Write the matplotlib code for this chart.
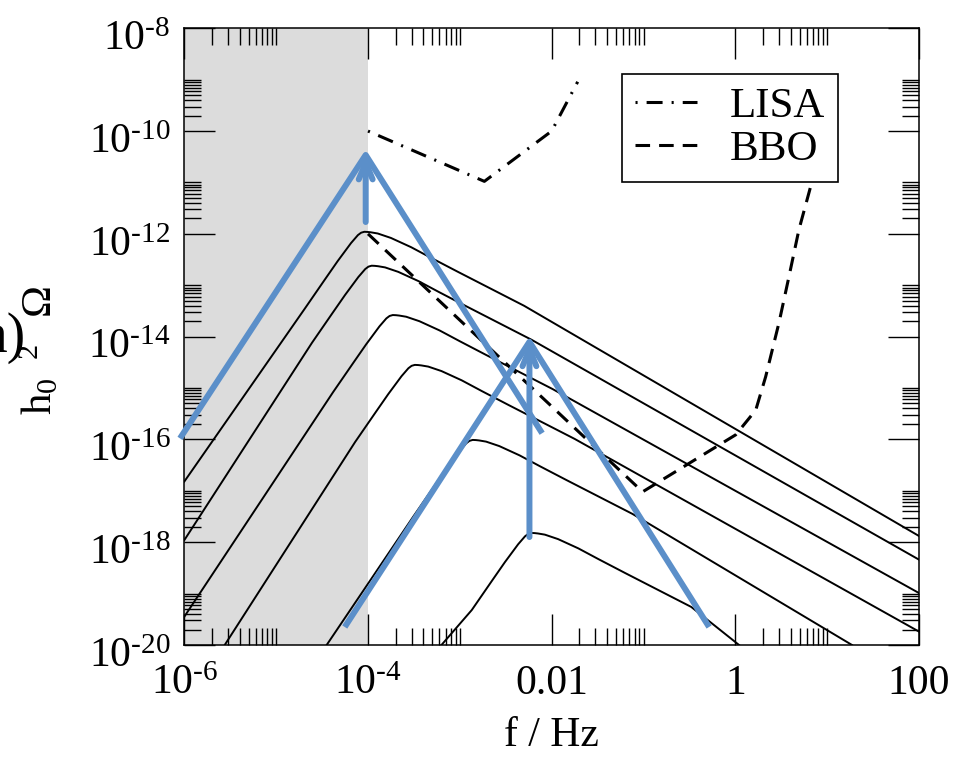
import numpy as np
import matplotlib
matplotlib.use('Agg')
import matplotlib.pyplot as plt
import matplotlib.transforms as mtransforms
from matplotlib.ticker import FixedLocator, FixedFormatter, NullFormatter

plt.rcParams['font.family'] = ['Liberation Serif', 'DejaVu Serif']
plt.rcParams['mathtext.fontset'] = 'custom'
plt.rcParams['mathtext.rm'] = 'Liberation Serif'
plt.rcParams['mathtext.it'] = 'Liberation Serif:italic'
plt.rcParams['mathtext.bf'] = 'Liberation Serif:bold'
plt.rcParams['lines.scale_dashes'] = False

HY = '\u2010'  # short hyphen like the original labels

# tick labels
x_major = [1e-6, 1e-4, 1e-2, 1.0, 100.0]
x_labels = ['$10^{' + HY + '6}$', '$10^{' + HY + '4}$', '0.01', '1', '100']
y_major = [1e-20, 1e-18, 1e-16, 1e-14, 1e-12, 1e-10, 1e-8]
y_labels = ['$10^{' + HY + e + '}$' for e in ['20', '18', '16', '14', '12', '10', '8']]

# grey band
band_f = [1e-6, 1e-4]

# peaked spectra, log10 values
peak_logf = [-4.04, -3.96, -3.73, -3.49, -2.86, -2.22]
peak_logo = [-11.96, -12.62, -13.58, -14.55, -16.01, -17.82]
low_end = [(-6.0, -16.82), (-6.0, -17.96), (-6.0, -19.45),
           (-5.56, -20.0), (-4.45, -20.0), (-3.20, -20.0)]
high_end = [(2.0, -17.88), (2.0, -18.34), (2.0, -18.99),
            (2.0, -19.74), (1.27, -20.0), (0.04, -20.0)]
# peak shape relative to the maximum (decades)
shape_dlogf = [-0.65, -0.43, -0.29, -0.145, -0.07, -0.035, 0.0, 0.035, 0.07, 0.146,
               0.29, 0.51, 0.73, 1.02, 1.38, 1.74]
shape_dlogo = [-1.50, -0.93, -0.57, -0.22, -0.065, -0.018, 0.0, -0.003, -0.01, -0.033,
               -0.12, -0.30, -0.51, -0.78, -1.11, -1.44]

# detector curves
lisa_f = [1e-4, 1.85e-3, 1.0e-2, 1.92e-2]
lisa_o = [1e-10, 1.05e-11, 1e-10, 9.1e-10]
bbo_logf = [-4.0, -1.01, 0.004, 0.222, 0.33, 0.475, 0.584, 0.692, 0.809, 0.875]
bbo_logo = [-12.0, -17.02, -15.91, -15.43, -14.78, -13.73, -12.83, -11.92, -11.15, -10.7]

# blue overlay arrows (log10 f, log10 omega)
arrow1_logf = [-6.047, -4.025, -2.104]
arrow1_logo = [-15.98, -10.465, -15.88]
shaft1 = [(-4.025, -11.77), (-4.025, -10.465)]
arrow2_logf = [-4.253, -2.242, -0.286]
arrow2_logo = [-19.65, -14.10, -19.65]
shaft2 = [(-2.242, -17.90), (-2.242, -14.10)]

blue = '#5b8fc9'

fig = plt.figure(figsize=(9.67, 7.58), dpi=100)
ax = fig.add_axes([0.1906, 0.1491, 0.7598, 0.8136])
ax.set_xscale('log')
ax.set_yscale('log')
ax.set_xlim(1e-6, 100)
ax.set_ylim(1e-20, 1e-8)

ax.axvspan(band_f[0], band_f[1], color='#dcdcdc', lw=0, zorder=0)

for i in range(len(peak_logf)):
    lf = [low_end[i][0]] + [peak_logf[i] + d for d in shape_dlogf] + [high_end[i][0]]
    lo = [low_end[i][1]] + [peak_logo[i] + d for d in shape_dlogo] + [high_end[i][1]]
    ax.plot(10 ** np.array(lf), 10 ** np.array(lo), color='black', lw=1.4, zorder=2)

ax.plot(lisa_f, lisa_o, color='black', lw=2.2, zorder=3,
        linestyle=(0, (1.5, 6.5, 11.5, 6.5)), label='LISA')
ax.plot(10 ** np.array(bbo_logf), 10 ** np.array(bbo_logo), color='black', lw=2.2,
        zorder=3, linestyle=(0, (10.5, 6.5)), label='BBO')

for lf, lo, sh in [(arrow1_logf, arrow1_logo, shaft1), (arrow2_logf, arrow2_logo, shaft2)]:
    ax.plot(10 ** np.array(lf), 10 ** np.array(lo), color=blue, lw=4.3,
            solid_capstyle='butt', clip_on=False, zorder=6)
    ax.annotate('', xy=(10 ** sh[1][0], 10 ** sh[1][1]), xytext=(10 ** sh[0][0], 10 ** sh[0][1]),
                arrowprops=dict(arrowstyle='->,head_length=1.2,head_width=0.5', color=blue,
                                lw=4.3, shrinkA=0, shrinkB=0), zorder=6)

# ticks
x_minor = [k * 10.0 ** e for e in range(-6, 2, 2) for k in range(2, 11)]
y_minor = [k * 10.0 ** e for e in range(-20, -8, 2) for k in range(2, 11)]
ax.xaxis.set_major_locator(FixedLocator(x_major))
ax.xaxis.set_major_formatter(FixedFormatter(x_labels))
ax.xaxis.set_minor_locator(FixedLocator(x_minor))
ax.xaxis.set_minor_formatter(NullFormatter())
ax.yaxis.set_major_locator(FixedLocator(y_major))
ax.yaxis.set_major_formatter(FixedFormatter(y_labels))
ax.yaxis.set_minor_locator(FixedLocator(y_minor))
ax.yaxis.set_minor_formatter(NullFormatter())
ax.tick_params(which='both', direction='in', top=True, right=True, width=1.0, labelsize=30)
ax.tick_params(which='major', length=22)
ax.tick_params(which='minor', length=12)
ax.tick_params(axis='x', pad=14)
ax.tick_params(axis='y', pad=10)
for s in ax.spines.values():
    s.set_linewidth(1.1)

shift = mtransforms.ScaledTranslation(0, -0.07, fig.dpi_scale_trans)
for lab in ax.get_yticklabels():
    lab.set_transform(lab.get_transform() + shift)

ax.set_xlabel('f / Hz', fontsize=30, labelpad=10)

fig.text(40 / 967, 1 - 350 / 758, r'$\mathrm{h}_0\;\;{}^2\;\;\;\Omega$', rotation=90,
         ha='center', va='center', fontsize=31)
fig.text(26 / 967, 1 - 352 / 758, 'n)', ha='right', va='baseline', fontsize=40)

leg = ax.legend(loc='upper right', bbox_to_anchor=(0.8897, 0.926), borderaxespad=0,
                fontsize=31, frameon=True, fancybox=False, framealpha=1,
                edgecolor='black', handlelength=1.45, handletextpad=0.75,
                borderpad=0.3, labelspacing=0.1)
leg.get_frame().set_linewidth(1.2)
leg.set_zorder(5)

fig.savefig('out.png', dpi=100)
